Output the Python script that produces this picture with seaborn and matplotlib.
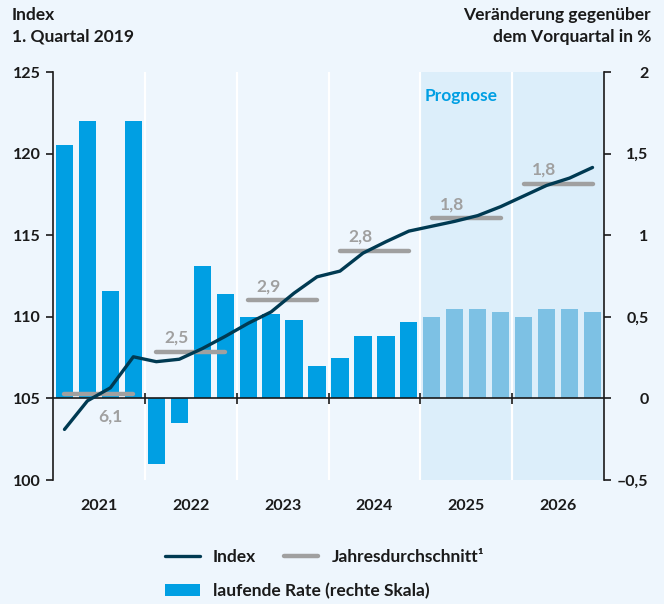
import numpy as np
import pandas as pd
import matplotlib
matplotlib.use("Agg")
import matplotlib.pyplot as plt
import seaborn as sns
from matplotlib.lines import Line2D
from matplotlib.patches import Patch

# =============================================================
# DATA
# =============================================================

years = [2021, 2022, 2023, 2024, 2025, 2026]
quarters = [f"{y} Q{q}" for y in years for q in range(1, 5)]

# laufende Rate, Veränderung gegenüber Vorquartal in % (rechte Skala)
rate = [1.55, 1.70, 0.66, 1.70,
        -0.40, -0.15, 0.81, 0.64,
        0.50, 0.52, 0.48, 0.20,
        0.25, 0.38, 0.38, 0.47,
        0.50, 0.55, 0.55, 0.53,
        0.50, 0.55, 0.55, 0.53]

# Index, 1. Quartal 2019 = 100 (linke Skala)
index_values = [103.1, 104.85, 105.65, 107.55,
                107.25, 107.4, 108.05, 108.8,
                109.6, 110.3, 111.45, 112.45,
                112.8, 113.9, 114.6, 115.25,
                115.55, 115.85, 116.2, 116.75,
                117.4, 118.05, 118.5, 119.15]

# Jahresdurchschnitt (Niveau auf Indexskala) und Beschriftung
annual_level = [105.3, 107.85, 111.0, 114.05, 116.05, 118.15]
annual_label = ["6,1", "2,5", "2,9", "2,8", "1,8", "1,8"]

forecast_from = 2025

right_ticks = [-0.5, 0, 0.5, 1, 1.5, 2]
right_tick_labels = ["–0,5", "0", "0,5", "1", "1,5", "2"]
left_ticks = [100, 105, 110, 115, 120, 125]

# colours
BG = "#EEF6FD"
SHADE = "#DCEEFA"
BLUE = "#009FE3"
LIGHT = "#7DC1E4"
NAVY = "#003A52"
GRAY = "#A0A0A0"
TXT = "#1A1A1A"

TEXT_SIZE = 12.5
TICK_SIZE = 11.5

sns.set_style("white")
plt.rcParams['font.family'] = ['Lato', 'DejaVu Sans']
plt.rcParams['font.size'] = TEXT_SIZE
plt.rcParams['font.weight'] = 'bold'
plt.rcParams['text.color'] = TXT
plt.rcParams['xtick.color'] = TXT
plt.rcParams['ytick.color'] = TXT

df = pd.DataFrame({
    "quartal": quarters,
    "rate": rate,
    "index": index_values,
    "phase": ["Prognose" if int(q[:4]) >= forecast_from else "Ist" for q in quarters],
})
df["pos"] = np.arange(len(df))

# =============================================================
# FIGURE
# =============================================================

fig = plt.figure(figsize=(6.64, 6.04), dpi=100)
fig.patch.set_facecolor(BG)
ax = fig.add_axes([53 / 664, 1 - 480 / 604, 551 / 664, 408 / 604])
ax.set_facecolor('none')

n_q = len(quarters)
boundaries = [4 * i - 0.5 for i in range(1, len(years))]
first_fc = quarters.index(f"{forecast_from} Q1")

# background: forecast shading + white year separators
ax.axvspan(first_fc - 0.5, n_q - 0.5, color=SHADE, lw=0, zorder=0)
for b in boundaries:
    ax.axvline(b, color='white', lw=1.6, zorder=1)

sns.barplot(data=df, x="quartal", y="rate", hue="phase",
            palette={"Ist": BLUE, "Prognose": LIGHT}, saturation=1,
            dodge=False, width=0.75, legend=False, linewidth=0, ax=ax, zorder=2)

ax.axhline(0, color=TXT, lw=1.2, zorder=3)
ax.vlines(boundaries, -0.035, 0.035, color=TXT, lw=1.2, zorder=3)

ax.text(first_fc - 0.3, 1.85, "Prognose", color=BLUE, ha='left', va='center',
        fontsize=TEXT_SIZE, fontweight='bold', zorder=4)

# index line on twin axis (left scale)
ax2 = ax.twinx()
sns.lineplot(data=df, x="pos", y="index", ax=ax2, color=NAVY, lw=2.4, zorder=5)

for i, (lvl, lab) in enumerate(zip(annual_level, annual_label)):
    x0, x1 = 4 * i, 4 * i + 3
    ax2.plot([x0, x1], [lvl, lvl], color=GRAY, lw=3.2,
             solid_capstyle='round', zorder=4)
    if i == 0:
        ax2.annotate(lab, (x0 + 2.0, lvl), xytext=(0, -16.5), textcoords='offset points',
                     ha='center', va='center', color=GRAY, fontsize=TEXT_SIZE, fontweight='bold')
    else:
        ax2.annotate(lab, (x0 + 0.9, lvl), xytext=(0, 10), textcoords='offset points',
                     ha='center', va='center', color=GRAY, fontsize=TEXT_SIZE, fontweight='bold')

# =============================================================
# AXES
# =============================================================

ax.set_xlim(-0.5, n_q - 0.5)
ax.set_ylim(-0.5, 2)
ax2.set_ylim(100, 125)

ax.yaxis.tick_right()
ax.set_yticks(right_ticks)
ax.set_yticklabels(right_tick_labels)
ax.tick_params(axis='y', direction='out', length=5, width=1.2, pad=27, labelsize=TICK_SIZE)
plt.setp(ax.get_yticklabels(), ha='right')

ax.set_xticks([4 * i + 1.5 for i in range(len(years))])
ax.set_xticklabels([str(y) for y in years])
ax.tick_params(axis='x', length=0, pad=14, labelsize=TICK_SIZE)
ax.set_xlabel('')
ax.set_ylabel('')

ax2.yaxis.tick_left()
ax2.set_yticks(left_ticks)
ax2.tick_params(axis='y', direction='out', length=5, width=1.2, pad=4, labelsize=TICK_SIZE)
ax2.set_xlabel('')
ax2.set_ylabel('')

for s in ['top', 'bottom', 'left']:
    ax.spines[s].set_visible(False)
ax.spines['right'].set_color(TXT)
ax.spines['right'].set_linewidth(1.2)
for s in ['top', 'bottom', 'right']:
    ax2.spines[s].set_visible(False)
ax2.spines['left'].set_color(TXT)
ax2.spines['left'].set_linewidth(1.2)

# =============================================================
# HEADERS AND LEGEND
# =============================================================

fig.text(12 / 664, 1 - 20 / 604, "Index", ha='left', va='baseline')
fig.text(12 / 664, 1 - 42 / 604, "1. Quartal 2019", ha='left', va='baseline')
fig.text(651 / 664, 1 - 20 / 604, "Veränderung gegenüber", ha='right', va='baseline')
fig.text(651 / 664, 1 - 42 / 604, "dem Vorquartal in %", ha='right', va='baseline')

row1 = [Line2D([0], [0], color=NAVY, lw=2.4),
        Line2D([0], [0], color=GRAY, lw=3.2, solid_capstyle='round')]
leg1 = fig.legend(row1, ["Index", "Jahresdurchschnitt¹"], ncol=2,
                  loc='center left', bbox_to_anchor=(165 / 664, 1 - 557 / 604),
                  frameon=False, handlelength=2.0, handletextpad=0.75,
                  columnspacing=1.6, borderpad=0, borderaxespad=0)
leg2 = fig.legend([Patch(facecolor=BLUE, edgecolor='none')], ["laufende Rate (rechte Skala)"],
                  loc='center left', bbox_to_anchor=(165 / 664, 1 - 591 / 604),
                  frameon=False, handlelength=2.0, handletextpad=0.75,
                  borderpad=0, borderaxespad=0)

fig.savefig("out.png", dpi=100, facecolor=BG)
